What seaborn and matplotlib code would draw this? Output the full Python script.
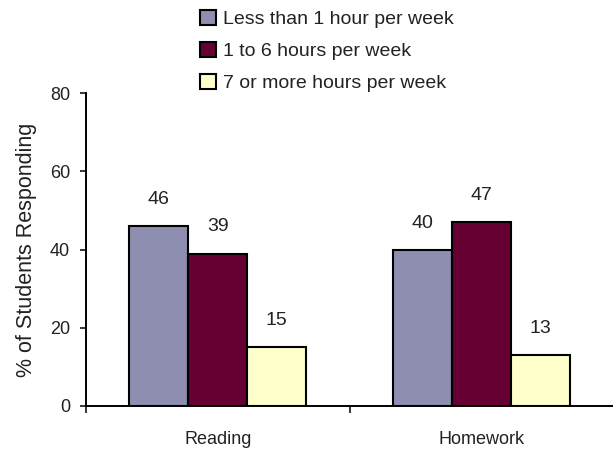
import pandas as pd
import numpy as np
import matplotlib.pyplot as plt
import seaborn as sns

activities = ['Reading', 'Homework']
groups = ['Less than 1 hour per week', '1 to 6 hours per week', '7 or more hours per week']
less_than_1 = [46, 40]
one_to_6 = [39, 47]
seven_plus = [15, 13]

df = pd.DataFrame({
    'Activity': activities * 3,
    'Group': [groups[0]] * 2 + [groups[1]] * 2 + [groups[2]] * 2,
    'Percent': less_than_1 + one_to_6 + seven_plus,
})

sns.set_style('white')
plt.rcParams['font.family'] = ['Liberation Sans', 'DejaVu Sans']

fig = plt.figure(figsize=(6.13, 4.5), dpi=100)
ax = fig.add_axes([0.1403, 0.0978, 0.8597, 0.695])
colors = ['#8E8EB0', '#660033', '#FFFFCC']
sns.barplot(data=df, x='Activity', y='Percent', hue='Group', palette=colors, saturation=1,
            edgecolor='black', linewidth=1.5, width=0.67, ax=ax)

# Value labels above each bar
for c in ax.containers:
    ax.bar_label(c, padding=13, fontsize=14, color='#222222')

ax.set_ylim(0, 80)
ax.set_xlim(-0.5, 1.5)
ax.set_yticks([0, 20, 40, 60, 80])
ax.set_ylabel('% of Students Responding', fontsize=15.5, color='#222222', labelpad=9)
ax.set_xlabel('')
ax.tick_params(axis='y', labelsize=13, length=4.5, width=1.3, direction='out', left=True, pad=7, labelcolor='#222222')
ax.tick_params(axis='x', which='major', labelsize=13, length=0, pad=18, labelcolor='#222222')
ax.set_xticks([-0.5, 0.5], minor=True)
ax.tick_params(axis='x', which='minor', length=5, width=1.3, direction='out', bottom=True)
for s in ['top', 'right']:
    ax.spines[s].set_visible(False)
for s in ['left', 'bottom']:
    ax.spines[s].set_color('black')
    ax.spines[s].set_linewidth(1.4)

handles, labels = ax.get_legend_handles_labels()
ax.get_legend().remove()
fig.legend(handles, labels, loc='upper left', bbox_to_anchor=(0.326, 0.978), frameon=False,
           fontsize=14, handlelength=0.82, handleheight=0.82, handletextpad=0.36,
           labelspacing=0.71, borderaxespad=0, borderpad=0, labelcolor='#222222')

plt.savefig('out.png', dpi=100)
